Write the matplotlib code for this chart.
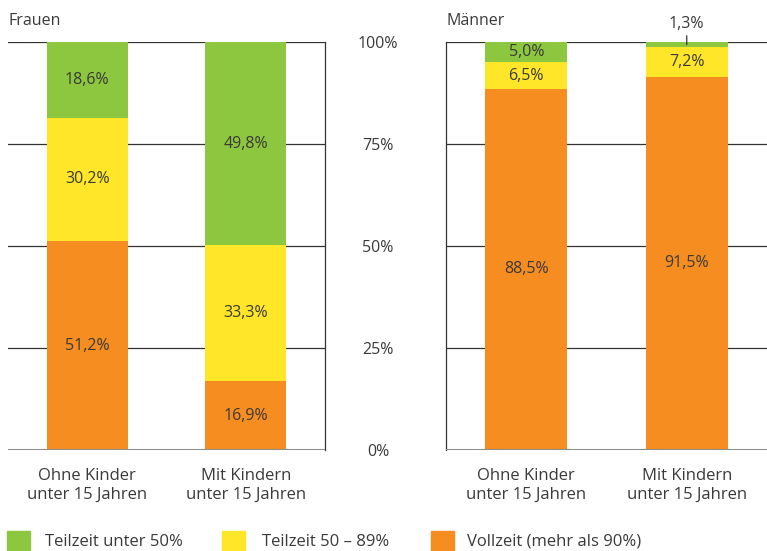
import numpy as np
import matplotlib.pyplot as plt
from matplotlib.patches import Rectangle

plt.rcParams['font.family'] = ['Open Sans', 'DejaVu Sans']

kategorien = ['Ohne Kinder\nunter 15 Jahren', 'Mit Kindern\nunter 15 Jahren']
serien = ['Vollzeit (mehr als 90%)', 'Teilzeit 50 – 89%', 'Teilzeit unter 50%']
farben = ['#F68D21', '#FFE629', '#8DC63F']

frauen_voll = [51.2, 16.9]
frauen_tz50 = [30.2, 33.3]
frauen_tz_unter = [18.6, 49.8]

maenner_voll = [88.5, 91.5]
maenner_tz50 = [6.5, 7.2]
maenner_tz_unter = [5.0, 1.3]

yticks = [0, 25, 50, 75, 100]
txt = '#3a3a3a'
fs = 11.5

fig = plt.figure(figsize=(7.67, 5.51), dpi=100)
ax1 = fig.add_axes([8/767, 1-450/551, 317/767, 408/551])
ax2 = fig.add_axes([446/767, 1-450/551, 321/767, 408/551])

def panel(ax, werte, titel, seite):
    x = np.arange(len(kategorien))
    unten = np.zeros(len(kategorien))
    for i, w in enumerate(werte):
        w = np.array(w)
        ax.bar(x, w, bottom=unten, width=0.51, color=farben[i], zorder=2)
        for j in range(len(x)):
            if w[j] >= 3:
                ax.text(x[j], unten[j] + w[j]/2, f'{w[j]:.1f}%'.replace('.', ','),
                        ha='center', va='center', fontsize=fs, color=txt, zorder=3)
        unten = unten + w
    for y in yticks[1:]:
        ax.axhline(y, color='#333333', lw=0.9, zorder=1)
    ax.axhline(0, color='#8c8c8c', lw=2.2, zorder=3)
    ax.set_xlim(-0.5, 1.5)
    ax.set_ylim(0, 100)
    for s in ax.spines.values():
        s.set_visible(False)
    ax.spines[seite].set_visible(True)
    ax.spines[seite].set_color('#333333')
    ax.spines[seite].set_linewidth(0.9)
    ax.set_yticks([])
    ax.set_xticks(x)
    ax.set_xticklabels(kategorien, fontsize=12, color=txt, linespacing=1.2)
    ax.tick_params(axis='x', length=0, pad=13)
    ax.set_title(titel, loc='left', fontsize=fs, color=txt, pad=12)

panel(ax1, [frauen_voll, frauen_tz50, frauen_tz_unter], 'Frauen', 'right')
panel(ax2, [maenner_voll, maenner_tz50, maenner_tz_unter], 'Männer', 'left')

# kleines Segment 1,3% mit Hinweislinie
w = maenner_tz_unter[1]
ax2.annotate(f'{w:.1f}%'.replace('.', ','), xy=(1, 100 - w/2), xytext=(1, 104.5),
             ha='center', va='center', fontsize=fs, color=txt,
             arrowprops=dict(arrowstyle='-', color='#333333', lw=0.9,
                             shrinkA=1, shrinkB=0), annotation_clip=False)

# y-Achsenbeschriftung in der Mitte
for y in yticks:
    fy = 1 - (452 - y * 4.08) / 551
    fig.text(378/767, fy, f'{y}%', ha='center', va='center', fontsize=fs, color=txt)

# Legende
leg = [(7, 45, 2), (222, 262, 1), (431, 467, 0)]
for px, tx, i in leg:
    fig.patches.append(Rectangle((px/767, 0), 23/767, 20/551,
                                 transform=fig.transFigure, color=farben[i]))
    fig.text(tx/767, 1 - 542/551, serien[i], ha='left', va='center',
             fontsize=12, color=txt)

fig.savefig('out.png', dpi=100)
